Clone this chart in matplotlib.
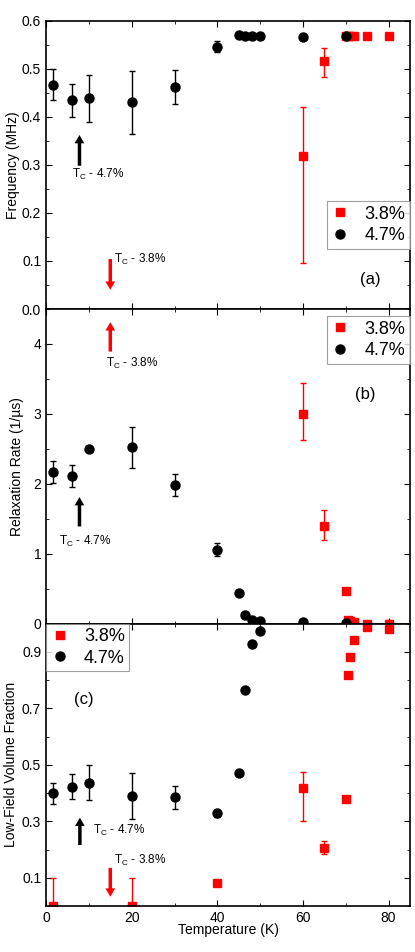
import matplotlib
matplotlib.use("Agg")
import matplotlib.pyplot as plt
from matplotlib.lines import Line2D
from matplotlib.ticker import MultipleLocator, FixedLocator

plt.rcParams["font.family"] = ["Liberation Sans", "DejaVu Sans"]
plt.rcParams["mathtext.fontset"] = "custom"
plt.rcParams["mathtext.rm"] = "Liberation Sans"

# 4.7% sample (black circles)
t47 = [1.6, 6, 10, 20, 30, 40, 45, 46.5, 48, 50, 60, 70]
freq47 = [0.467, 0.434, 0.438, 0.430, 0.462, 0.546, 0.569, 0.567, 0.567, 0.567, 0.566, 0.567]
freq47_err = [0.033, 0.034, 0.048, 0.065, 0.036, 0.012, 0, 0, 0, 0, 0, 0]
rate47 = [2.17, 2.11, 2.50, 2.52, 1.98, 1.06, 0.44, 0.12, 0.05, 0.04, 0.02, 0.005]
rate47_err = [0.16, 0.16, 0, 0.29, 0.16, 0.09, 0, 0, 0, 0, 0, 0]
t47_frac = [1.6, 6, 10, 20, 30, 40, 45, 46.5, 48, 50]
frac47 = [0.400, 0.422, 0.437, 0.390, 0.385, 0.328, 0.472, 0.764, 0.928, 0.976]
frac47_err = [0.037, 0.044, 0.062, 0.080, 0.040, 0.013, 0, 0, 0, 0]

# 3.8% sample (red squares), errors given as (lower, upper)
t38 = [60, 65, 70, 70.5, 71, 72, 75, 80]
freq38 = [0.318, 0.515, 0.567, 0.567, 0.567, 0.567, 0.568, 0.568]
freq38_lo = [0.222, 0.032, 0, 0, 0, 0, 0, 0]
freq38_hi = [0.102, 0.027, 0, 0, 0, 0, 0, 0]
rate38 = [3.00, 1.40, 0.46, 0.05, 0.04, 0.03, 0.0, -0.01]
rate38_lo = [0.38, 0.20, 0, 0, 0, 0, 0.04, 0.06]
rate38_hi = [0.44, 0.23, 0, 0, 0, 0, 0.04, 0.06]
t38_frac = [1.6, 20, 40, 60, 65, 70, 70.5, 71, 72, 75, 80]
frac38 = [0.0, 0.0, 0.083, 0.419, 0.206, 0.378, 0.818, 0.881, 0.944, 0.99, 0.98]
frac38_lo = [0.1, 0.1, 0.008, 0.119, 0.020, 0, 0, 0, 0, 0, 0]
frac38_hi = [0.1, 0.1, 0.008, 0.055, 0.026, 0, 0, 0, 0, 0, 0]

red = "#ff0000"
fig = plt.figure(figsize=(4.15, 9.52), dpi=100)
left, width = 0.111, 0.877
axa = fig.add_axes([left, 0.6754, width, 0.3030])
axb = fig.add_axes([left, 0.3449, width, 0.3306], sharex=axa)
axc = fig.add_axes([left, 0.0483, width, 0.2965], sharex=axa)

def draw(ax, tx47, y47, e47, tx38, y38, e38):
    ax.errorbar(tx38, y38, yerr=e38, fmt="s", color=red, ms=5.5, capsize=2, elinewidth=1, capthick=1)
    ax.errorbar(tx47, y47, yerr=e47, fmt="o", color="black", ms=6.5, capsize=2, elinewidth=1, capthick=1)
    ax.tick_params(which="both", direction="in", top=True, right=True, labelsize=10)
    ax.tick_params(which="major", length=4)
    ax.tick_params(which="minor", length=2)
    for s in ax.spines.values():
        s.set_linewidth(1.2)

draw(axa, t47, freq47, freq47_err, t38, freq38, [freq38_lo, freq38_hi])
draw(axb, t47, rate47, rate47_err, t38, rate38, [rate38_lo, rate38_hi])
draw(axc, t47_frac, frac47, frac47_err, t38_frac, frac38, [frac38_lo, frac38_hi])

axa.set_xlim(0, 85)
axa.xaxis.set_major_locator(MultipleLocator(20))
axa.xaxis.set_minor_locator(MultipleLocator(10))
plt.setp(axa.get_xticklabels(), visible=False)
plt.setp(axb.get_xticklabels(), visible=False)

axa.set_ylim(0, 0.6)
axa.yaxis.set_major_locator(MultipleLocator(0.1))
axa.yaxis.set_minor_locator(MultipleLocator(0.05))
axb.set_ylim(0, 4.5)
axb.yaxis.set_major_locator(FixedLocator([0, 1, 2, 3, 4]))
axb.yaxis.set_minor_locator(MultipleLocator(0.5))
axc.set_ylim(0, 1.0)
axc.yaxis.set_major_locator(FixedLocator([0.1, 0.3, 0.5, 0.7, 0.9]))
axc.yaxis.set_minor_locator(MultipleLocator(0.1))

axa.set_ylabel("Frequency (MHz)", fontsize=10)
axb.set_ylabel("Relaxation Rate (1/\u00b5s)", fontsize=10)
axc.set_ylabel("Low-Field Volume Fraction", fontsize=10)
axc.set_xlabel("Temperature (K)", fontsize=10, labelpad=-1)
axa.yaxis.set_label_coords(-0.071, 0.5)
axb.yaxis.set_label_coords(-0.060, 0.5)
axc.yaxis.set_label_coords(-0.077, 0.5)

handles = [Line2D([], [], marker="s", ls="none", color=red, ms=5.5),
           Line2D([], [], marker="o", ls="none", color="black", ms=6.5)]
labels = ["3.8%", "4.7%"]
leg_kw = dict(fontsize=13, frameon=True, fancybox=False, edgecolor="#888888", handletextpad=0.85,
              borderpad=0.25, labelspacing=0.25, handlelength=1.0, borderaxespad=0)
la = axa.legend(handles, labels, loc="upper right", bbox_to_anchor=(1.0, 0.374), **leg_kw)
lb = axb.legend(handles, labels, loc="upper right", bbox_to_anchor=(1.0, 0.977), **leg_kw)
lc = axc.legend(handles, labels, loc="upper left", bbox_to_anchor=(0.0, 1.0), **leg_kw)
for lg in (la, lb, lc):
    lg.get_frame().set_linewidth(0.8)

axa.text(75.7, 0.062, "(a)", fontsize=12, ha="center", va="center")
axb.text(74.5, 3.28, "(b)", fontsize=12, ha="center", va="center")
axc.text(8.7, 0.73, "(c)", fontsize=12, ha="center", va="center")

def arrow(ax, x, y0, y1, color):
    ax.annotate("", xy=(x, y1), xytext=(x, y0),
                arrowprops=dict(width=2.5, headwidth=7, headlength=6, color=color, lw=0))

lab47 = r"T$_\mathrm{C}$ - 4.7%"
lab38 = r"T$_\mathrm{C}$ - 3.8%"
arrow(axa, 7.8, 0.298, 0.362, "black")
axa.text(6.0, 0.279, lab47, fontsize=8.5, va="center")
arrow(axa, 15, 0.104, 0.040, red)
axa.text(15.9, 0.104, lab38, fontsize=8.5, va="center")

arrow(axb, 15, 3.89, 4.31, red)
axb.text(14.0, 3.72, lab38, fontsize=8.5, va="center")
arrow(axb, 7.8, 1.39, 1.81, "black")
axb.text(3.0, 1.17, lab47, fontsize=8.5, va="center")

arrow(axc, 7.9, 0.216, 0.313, "black")
axc.text(10.9, 0.267, lab47, fontsize=8.5, va="center")
arrow(axc, 15, 0.135, 0.033, red)
axc.text(15.9, 0.16, lab38, fontsize=8.5, va="center")

fig.savefig("out.png", dpi=100)
